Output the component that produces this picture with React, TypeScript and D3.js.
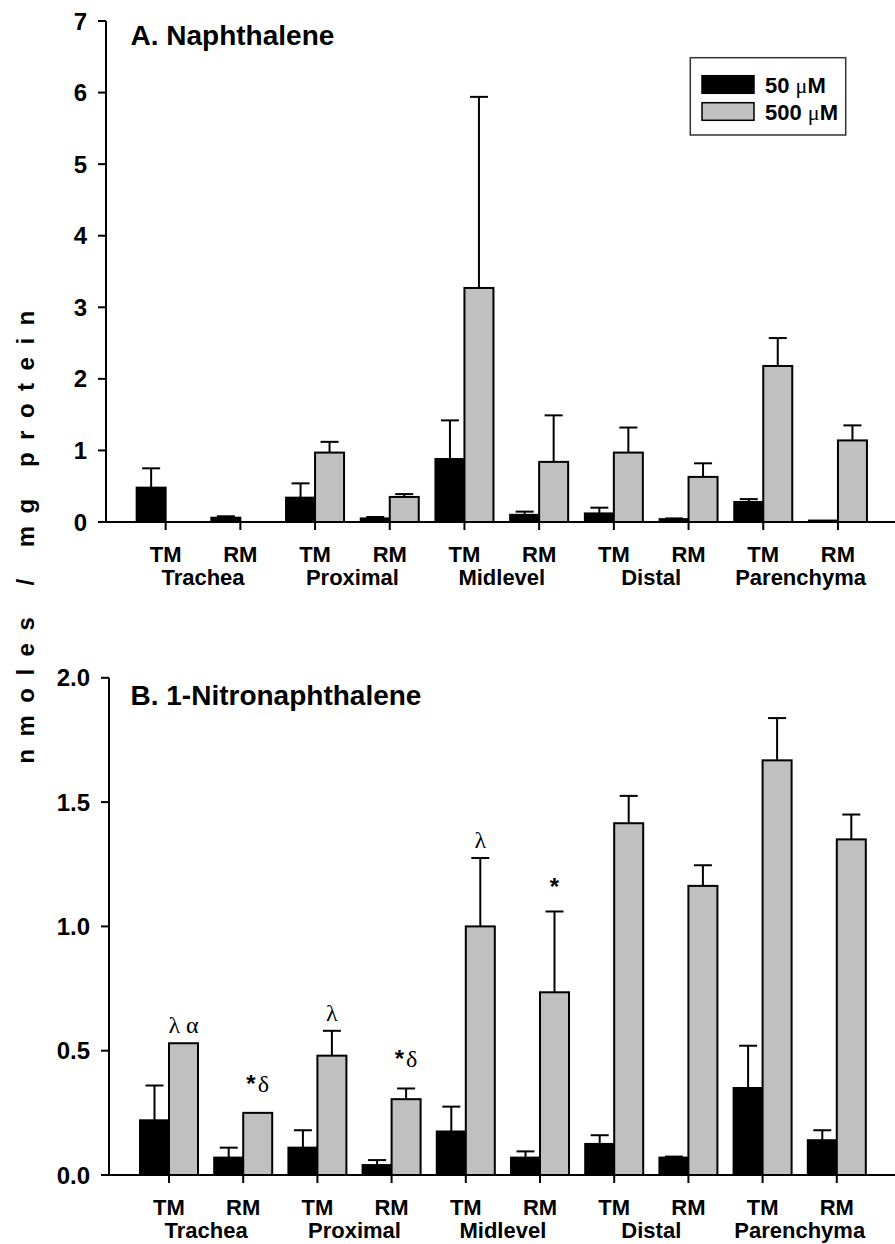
import React from "react";
import * as d3 from "d3";

// ---------- data ----------
const regions = ["Trachea", "Proximal", "Midlevel", "Distal", "Parenchyma"];
const sites = ["TM", "RM"];
const categories = regions.flatMap((r) => sites.map((s) => `${r}|${s}`));
const seriesKeys = ["50", "500"];
const seriesLabels = ["50 ", "500 "];

// Panel A: Naphthalene
const naph50 = [0.48, 0.06, 0.34, 0.05, 0.88, 0.1, 0.12, 0.04, 0.28, 0.02];
const naph50Err = [0.27, 0.02, 0.2, 0.02, 0.54, 0.045, 0.08, 0.01, 0.04, 0];
const naph500 = [0, 0, 0.97, 0.35, 3.27, 0.84, 0.97, 0.63, 2.18, 1.14];
const naph500Err = [0, 0, 0.15, 0.04, 2.67, 0.65, 0.35, 0.19, 0.39, 0.21];
const naphTicks = [0, 1, 2, 3, 4, 5, 6, 7];

// Panel B: 1-Nitronaphthalene
const nitro50 = [0.22, 0.07, 0.11, 0.04, 0.175, 0.07, 0.125, 0.07, 0.35, 0.14];
const nitro50Err = [0.14, 0.04, 0.07, 0.02, 0.1, 0.025, 0.035, 0.004, 0.17, 0.04];
const nitro500 = [0.53, 0.25, 0.48, 0.305, 1.0, 0.735, 1.415, 1.163, 1.668, 1.35];
const nitro500Err = [0, 0, 0.1, 0.043, 0.275, 0.325, 0.11, 0.083, 0.17, 0.1];
const nitroNotes = ["λ α", "*δ", "λ", "*δ", "λ", "*", "", "", "", ""];
const nitroTicks = [0, 0.5, 1.0, 1.5, 2.0];

const SANS = "'Liberation Sans', Arial, Helvetica, sans-serif";
const SERIF = "'Liberation Serif', 'Times New Roman', serif";
const GRAY = "#c0c0c0";

type PanelProps = {
  title: string;
  titleY: number;
  v50: number[];
  e50: number[];
  v500: number[];
  e500: number[];
  ticks: number[];
  yMax: number;
  yTop: number;
  yBottom: number;
  axisX: number;
  xRange: [number, number];
  tickFmt: (v: number) => string;
  notes?: string[];
};

function Panel(p: PanelProps) {
  const x = d3.scaleBand<string>().domain(categories).range(p.xRange).paddingInner(0).paddingOuter(0);
  const sub = d3.scaleBand<string>().domain(seriesKeys).range([-29, 29]);
  const y = d3.scaleLinear().domain([0, p.yMax]).range([p.yBottom, p.yTop]);
  const bw = sub.bandwidth();
  const center = (c: string) => (x(c) as number) + x.bandwidth() / 2;
  const base = y(0);

  const bars: JSX.Element[] = [];
  const errs: JSX.Element[] = [];
  categories.forEach((c, i) => {
    [
      { k: "50", v: p.v50[i], e: p.e50[i], fill: "#000" },
      { k: "500", v: p.v500[i], e: p.e500[i], fill: GRAY },
    ].forEach((s) => {
      if (s.v <= 0) return;
      const bx = center(c) + (sub(s.k) as number);
      bars.push(
        <rect key={`b${c}${s.k}`} x={bx} y={y(s.v)} width={bw} height={base - y(s.v)}
          fill={s.fill} stroke="#000" strokeWidth={2} />
      );
      if (s.e > 0) {
        const cx = bx + bw / 2;
        errs.push(
          <g key={`e${c}${s.k}`} stroke="#000" strokeWidth={2}>
            <line x1={cx} x2={cx} y1={y(s.v)} y2={y(s.v + s.e)} />
            <line x1={cx - 9} x2={cx + 9} y1={y(s.v + s.e)} y2={y(s.v + s.e)} />
          </g>
        );
      }
    });
  });

  const notes = (p.notes || []).map((n, i) => {
    if (!n) return null;
    const c = categories[i];
    const cx = center(c) + (sub("500") as number) + bw / 2;
    const top = y(p.v500[i] + p.e500[i]);
    const hasStar = n.includes("*");
    const baseY = top - (hasStar ? (n.length > 1 ? 21 : 16) : 10);
    if (n === "*") {
      return (
        <text key={`n${i}`} x={cx} y={baseY} textAnchor="middle" fontFamily={SANS}
          fontWeight="bold" fontSize={24}>*</text>
      );
    }
    if (hasStar) {
      return (
        <text key={`n${i}`} x={cx} y={baseY} textAnchor="middle" fontSize={24}>
          <tspan fontFamily={SANS} fontWeight="bold">*</tspan>
          <tspan fontFamily={SERIF} dx={2}>{n.replace("*", "")}</tspan>
        </text>
      );
    }
    return (
      <text key={`n${i}`} x={cx} y={baseY} textAnchor="middle" fontFamily={SERIF} fontSize={24}>
        {n}
      </text>
    );
  });

  return (
    <g>
      {/* y axis */}
      <line x1={p.axisX} x2={p.axisX} y1={y(p.yMax)} y2={base} stroke="#000" strokeWidth={2} />
      {p.ticks.map((t) => (
        <g key={`yt${t}`}>
          <line x1={p.axisX - 8} x2={p.axisX} y1={y(t)} y2={y(t)} stroke="#000" strokeWidth={2} />
          <text x={p.axisX - 19} y={y(t) + 8.5} textAnchor="end" fontFamily={SANS}
            fontWeight="bold" fontSize={24}>{p.tickFmt(t)}</text>
        </g>
      ))}
      {bars}
      {errs}
      {/* x axis */}
      <line x1={p.axisX - 8} x2={895} y1={base} y2={base} stroke="#000" strokeWidth={2} />
      {categories.map((c) => (
        <g key={`xt${c}`}>
          <line x1={center(c)} x2={center(c)} y1={base} y2={base + 8} stroke="#000" strokeWidth={2} />
          <text x={center(c)} y={base + 40} textAnchor="middle" fontFamily={SANS}
            fontWeight="bold" fontSize={22}>{c.split("|")[1]}</text>
        </g>
      ))}
      {regions.map((r) => {
        const cx = (center(`${r}|TM`) + center(`${r}|RM`)) / 2;
        return (
          <text key={`r${r}`} x={cx} y={base + 63} textAnchor="middle" fontFamily={SANS}
            fontWeight="bold" fontSize={22}>{r}</text>
        );
      })}
      {notes}
      <text x={130.5} y={p.titleY} fontFamily={SANS} fontWeight="bold" fontSize={28}>
        {p.title}
      </text>
    </g>
  );
}

export default function App() {
  return (
    <svg width={895} height={1244} style={{ position: "absolute", left: 0, top: 0, background: "#fff" }}>
      <rect width={895} height={1244} fill="#fff" />
      <Panel
        title="A. Naphthalene" titleY={44.5}
        v50={naph50} e50={naph50Err} v500={naph500} e500={naph500Err}
        ticks={naphTicks} yMax={7} yTop={21} yBottom={522} axisX={106}
        xRange={[128.3, 875.3]} tickFmt={(v) => d3.format("d")(v)}
      />
      <Panel
        title="B. 1-Nitronaphthalene" titleY={705}
        v50={nitro50} e50={nitro50Err} v500={nitro500} e500={nitro500Err}
        ticks={nitroTicks} yMax={2} yTop={677.8} yBottom={1175} axisX={109}
        xRange={[131.9, 873.9]} tickFmt={(v) => d3.format(".1f")(v)} notes={nitroNotes}
      />
      {/* legend */}
      <g>
        <rect x={690.3} y={57.7} width={155.4} height={77.3} fill="#fff" stroke="#333" strokeWidth={1.5} />
        {seriesKeys.map((k, i) => (
          <g key={`lg${k}`}>
            <rect x={702} y={75.7 + i * 27} width={52} height={17.6}
              fill={i === 0 ? "#000" : GRAY} stroke="#000" strokeWidth={1.5} />
            <text x={765} y={92.5 + i * 27} fontFamily={SANS} fontWeight="bold" fontSize={22}>
              {seriesLabels[i]}
              <tspan fontFamily={SERIF} fontWeight="normal">μ</tspan>
              M
            </text>
          </g>
        ))}
      </g>
      {/* y axis title */}
      <text transform="translate(34,531) rotate(-90)" textAnchor="middle" fontFamily={SANS}
        fontWeight="bold" fontSize={24} letterSpacing={12.5}>
        nmoles / mg protein
      </text>
    </svg>
  );
}
